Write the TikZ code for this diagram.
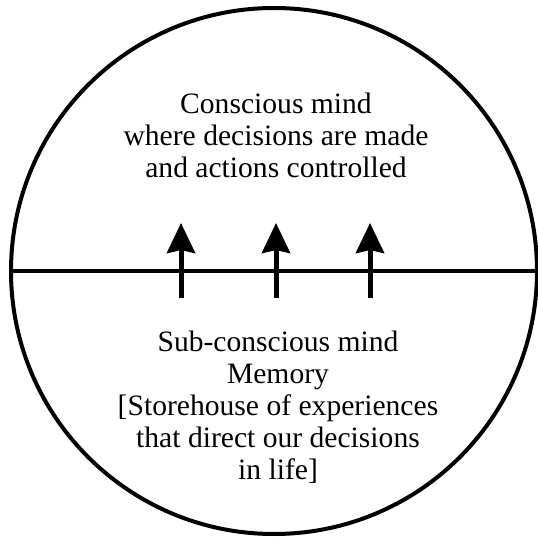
\documentclass[tikz,border=0pt]{standalone}
\usepackage{fontspec}
\setmainfont{Liberation Serif}
\usetikzlibrary{arrows.meta}

\begin{document}
\begin{tikzpicture}[
x=1pt, y=-1pt,
mind/.style={circle, draw, line width=4pt, minimum size=526pt, inner sep=0pt},
txt/.style={align=center, inner sep=0pt, font=\fontsize{29.6}{32}\selectfont},
divider/.style={line width=4pt},
arrow/.style={-{Stealth[length=30pt,width=28pt,inset=3pt]}, line width=5pt} ]

\useasboundingbox (0,0) rectangle (538,537);

\node[mind](M) at (274,271) {};

\draw[divider] (M.west) -- (M.east);

\node[txt](C) at (276,135) {Conscious mind\\where decisions are made\\and actions controlled};

\node[txt](S) at (278,407) {Sub-conscious mind\\Memory\\{[}Storehouse of experiences\\that direct our decisions\\in life{]}};

\coordinate (a1) at (181,298);
\coordinate (b1) at (181,223);
\coordinate (a2) at (276,298);
\coordinate (b2) at (276,223);
\coordinate (a3) at (370,298);
\coordinate (b3) at (370,223);

\draw[arrow] (a1) -- (b1);

\draw[arrow] (a2) -- (b2);

\draw[arrow] (a3) -- (b3);

\end{tikzpicture}
\end{document}
